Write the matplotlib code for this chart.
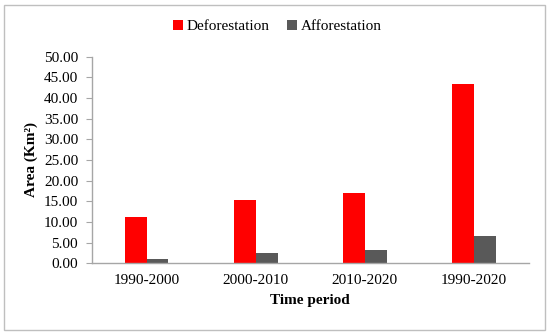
import matplotlib

matplotlib.use("Agg")

import matplotlib.pyplot as plt
import numpy as np
from matplotlib.patches import Rectangle

periods = ["1990-2000", "2000-2010", "2010-2020", "1990-2020"]
deforestation = [11.2, 15.4, 17.1, 43.3]
afforestation = [1.0, 2.5, 3.2, 6.6]
y_ticks = [0, 5, 10, 15, 20, 25, 30, 35, 40, 45, 50]

plt.rcParams["font.family"] = ["Liberation Serif", "DejaVu Serif"]

fig = plt.figure(figsize=(5.5, 3.34), dpi=100)
ax = fig.add_axes([0.1673, 0.2117, 0.7937, 0.6191])

x = np.arange(len(periods))
w = 0.2
ax.bar(x - w / 2, deforestation, w, color="#ff0000", label="Deforestation")
ax.bar(x + w / 2, afforestation, w, color="#595959", label="Afforestation")

ax.set_xlim(-0.5, len(periods) - 0.5)
ax.set_ylim(0, 50)
ax.set_yticks(y_ticks)
ax.set_yticklabels([f"{v:.2f}" for v in y_ticks])
ax.set_xticks(x)
ax.set_xticklabels(periods)

for side in ("top", "right"):
    ax.spines[side].set_visible(False)
for side in ("left", "bottom"):
    ax.spines[side].set_color("#a6a6a6")
    ax.spines[side].set_linewidth(1.0)

ax.tick_params(axis="y", length=4, color="#a6a6a6", pad=6, labelsize=11)
ax.tick_params(axis="x", length=0, pad=8, labelsize=11)

ax.set_ylabel("Area (Km²)", fontsize=11, fontweight="bold", labelpad=4)
ax.set_xlabel("Time period", fontsize=11, fontweight="bold", labelpad=5)

fig.legend(
    loc="center",
    bbox_to_anchor=(0.504, 0.92),
    ncol=2,
    frameon=False,
    fontsize=11,
    handlelength=0.65,
    handleheight=0.65,
    handletextpad=0.2,
    columnspacing=1.2,
)

# light grey frame around the whole chart
fig.patches.append(
    Rectangle(
        (4 / 550, 4 / 334),
        541 / 550,
        325 / 334,
        transform=fig.transFigure,
        fill=False,
        edgecolor="#bfbfbf",
        linewidth=1.0,
    )
)

fig.savefig("out.png", dpi=100)
